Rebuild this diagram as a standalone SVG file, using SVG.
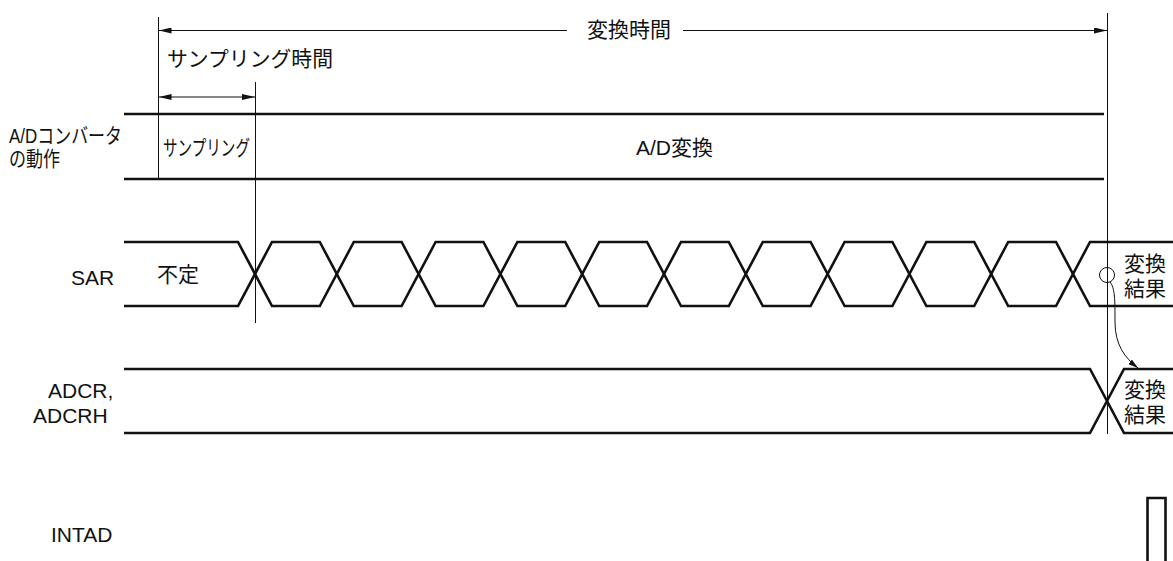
<svg xmlns="http://www.w3.org/2000/svg" width="1173" height="561" viewBox="0 0 1173 561">
<style>
.t{font-family:"Liberation Sans","Noto Sans CJK JP",Arial,sans-serif;font-size:21px;fill:#111}
.sig{fill:none;stroke:#111;stroke-width:2.6;stroke-linejoin:miter}
.ref{fill:none;stroke:#111;stroke-width:1}
.dim{fill:none;stroke:#111;stroke-width:1.2}
</style>
<defs>
<marker id="ah" viewBox="0 0 13 6" refX="13" refY="3" markerWidth="13" markerHeight="6" markerUnits="userSpaceOnUse" orient="auto-start-reverse"><path d="M0,0 L13,3 L0,6 z" fill="#111"/></marker>
<marker id="ahs" viewBox="0 0 10 6" refX="10" refY="3" markerWidth="10" markerHeight="6" markerUnits="userSpaceOnUse" orient="auto"><path d="M0,0 L10,3 L0,6 z" fill="#111"/></marker>
</defs>
<rect width="1173" height="561" fill="#fff"/>

<g id="reference-lines">
<line class="ref" x1="158.5" y1="17" x2="158.5" y2="179"/>
<line class="ref" x1="255.5" y1="82" x2="255.5" y2="323" stroke="#444"/>
<line class="ref" x1="1107.5" y1="13" x2="1107.5" y2="434"/>
</g>

<g id="conversion-time">
<text class="t" x="587" y="37">変換時間</text>
</g>
<g id="sampling-time">
<text class="t" x="167" y="66" textLength="166" lengthAdjust="spacingAndGlyphs">サンプリング時間</text>
</g>

<g id="adc-operation">
<text class="t" x="9" y="143" font-size="19" textLength="113" lengthAdjust="spacingAndGlyphs">A/Dコンバータ</text>
<text class="t" x="9" y="166" font-size="19" textLength="51" lengthAdjust="spacingAndGlyphs">の動作</text>
<line class="sig" x1="124" y1="114" x2="1104" y2="114"/>
<line class="sig" x1="124" y1="179" x2="1104" y2="179"/>
<text class="t" x="163" y="155" font-size="19" textLength="87" lengthAdjust="spacingAndGlyphs">サンプリング</text>
<text class="t" x="636" y="155">A/D変換</text>
</g>

<g id="sar">
<text class="t" x="71" y="285">SAR</text>
<path class="sig" d="M124,242 H238 L272,306 H319.8 L353.8,242 H401.6 L435.6,306 H483.4 L517.4,242 H565.2 L599.2,306 H647 L681,242 H728.8 L762.8,306 H810.6 L844.6,242 H892.4 L926.4,306 H974.2 L1008.2,242 H1056 L1090,306 H1173"/>
<path class="sig" d="M124,306 H238 L272,242 H319.8 L353.8,306 H401.6 L435.6,242 H483.4 L517.4,306 H565.2 L599.2,242 H647 L681,306 H728.8 L762.8,242 H810.6 L844.6,306 H892.4 L926.4,242 H974.2 L1008.2,306 H1056 L1090,242 H1173"/>
<text class="t" x="157" y="282">不定</text>
<text class="t" x="1124" y="271">変換</text>
<text class="t" x="1124" y="296">結果</text>
<circle class="ref" cx="1107" cy="275" r="7.5"/>
</g>

<g id="adcr">
<text class="t" x="48" y="398">ADCR,</text>
<text class="t" x="33" y="423">ADCRH</text>
<path class="sig" d="M124,369 H1090 L1124,433 H1173"/>
<path class="sig" d="M124,433 H1090 L1124,369 H1173"/>
<text class="t" x="1124" y="397">変換</text>
<text class="t" x="1124" y="422">結果</text>
</g>

<g id="intad">
<text class="t" x="51" y="542">INTAD</text>
<path class="sig" d="M1147.5,562 V498 H1165.5 V562"/>
</g>

<g id="connectors">
<line class="dim" x1="567" y1="30.5" x2="158.5" y2="30.5" marker-end="url(#ah)"/>
<line class="dim" x1="683" y1="30.5" x2="1107" y2="30.5" marker-end="url(#ah)"/>
<line class="dim" x1="158.5" y1="97" x2="255" y2="97" marker-start="url(#ah)" marker-end="url(#ah)"/>
<path class="ref" d="M1110,282 C1115,288 1115,300 1115,322 C1115,345 1125,358 1138,368" marker-end="url(#ahs)"/>
</g>
</svg>
